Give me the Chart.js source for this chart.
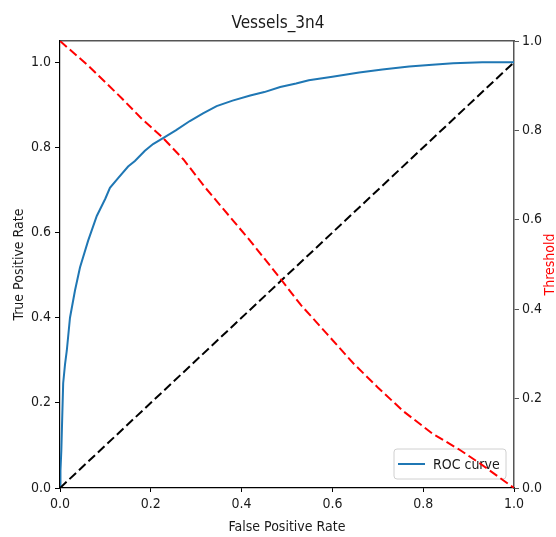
<!DOCTYPE html>
<html>
<head>
<meta charset="utf-8">
<script src="https://cdn.jsdelivr.net/npm/chart.js@4.4.1/dist/chart.umd.min.js"></script>
<style>
  html, body { margin: 0; padding: 0; background: #fff; }
  #chart { display: block; }
</style>
</head>
<body>
<canvas id="chart" width="556" height="537"></canvas>
<script>
// ROC curve (false positive rate vs true positive rate)
var rocFpr = [0, 0.001, 0.003, 0.005, 0.007, 0.011, 0.015, 0.022, 0.033, 0.044, 0.062, 0.081,
  0.100, 0.110, 0.128, 0.150, 0.165, 0.187, 0.205, 0.227, 0.255, 0.286, 0.315, 0.345, 0.380,
  0.419, 0.450, 0.485, 0.520, 0.548, 0.600, 0.659, 0.710, 0.769, 0.820, 0.866, 0.930, 1.0];
var rocTpr = [0, 0.04, 0.09, 0.17, 0.246, 0.29, 0.323, 0.40, 0.464, 0.518, 0.581, 0.639,
  0.680, 0.705, 0.728, 0.755, 0.768, 0.792, 0.808, 0.822, 0.840, 0.862, 0.880, 0.897, 0.910,
  0.922, 0.930, 0.942, 0.950, 0.958, 0.966, 0.976, 0.983, 0.990, 0.994, 0.998, 1.0, 1.0];

// threshold against false positive rate (right axis)
var thrFpr = [0, 0.062, 0.136, 0.180, 0.224, 0.272, 0.320, 0.374, 0.419, 0.485, 0.530, 0.587,
  0.646, 0.700, 0.756, 0.820, 0.881, 0.925, 1.0];
var thrValue = [1.0, 0.945, 0.872, 0.826, 0.786, 0.735, 0.672, 0.607, 0.553, 0.469, 0.410, 0.346,
  0.279, 0.225, 0.172, 0.122, 0.085, 0.055, 0.0];

// chance line
var chanceX = [0, 1];
var chanceY = [0, 1];

var tickValues = [0, 0.2, 0.4, 0.6, 0.8, 1.0];

var FONT = "'DejaVu Sans Condensed', 'DejaVu Sans', sans-serif";
var TEXT = '#1a1a1a';

function toPoints(xs, ys) {
  return xs.map(function (x, i) { return { x: x, y: ys[i] }; });
}

function fixedTicks(scale) {
  scale.ticks = tickValues.map(function (v) { return { value: v }; });
}

// Legend box in the lower right corner of the plot, like matplotlib's.
var legendBox = {
  id: 'legendBox',
  beforeDatasetsDraw: function (chart) {
    var ctx = chart.ctx;
    var area = chart.chartArea;
    var ds = chart.data.datasets[0];
    var w = 112, h = 30;
    var x = area.right - 8 - w;
    var y = area.bottom - 9 - h;
    ctx.save();
    ctx.beginPath();
    ctx.roundRect(x, y, w, h, 3);
    ctx.fillStyle = 'rgba(255,255,255,0.8)';
    ctx.fill();
    ctx.strokeStyle = '#d0d0d0';
    ctx.lineWidth = 1;
    ctx.stroke();
    ctx.beginPath();
    ctx.moveTo(x + 4, y + h / 2);
    ctx.lineTo(x + 31, y + h / 2);
    ctx.strokeStyle = ds.borderColor;
    ctx.lineWidth = ds.borderWidth;
    ctx.stroke();
    ctx.fillStyle = TEXT;
    ctx.font = '14px ' + FONT;
    ctx.textBaseline = 'middle';
    ctx.fillText(ds.label, x + 39, y + h / 2 + 1);
    ctx.restore();
  }
};

// Right axis title reads bottom-to-top as in matplotlib.
var rightTitle = {
  id: 'rightTitle',
  afterDraw: function (chart) {
    var ctx = chart.ctx;
    var area = chart.chartArea;
    ctx.save();
    ctx.translate(550, (area.top + area.bottom) / 2);
    ctx.rotate(-Math.PI / 2);
    ctx.fillStyle = '#ff0000';
    ctx.font = '14px ' + FONT;
    ctx.textAlign = 'center';
    ctx.textBaseline = 'middle';
    ctx.fillText('Threshold', 0, 0);
    ctx.restore();
  }
};

new Chart(document.getElementById('chart'), {
  type: 'line',
  data: {
    datasets: [
      {
        label: 'ROC curve',
        data: toPoints(rocFpr, rocTpr),
        borderColor: '#1f77b4',
        borderWidth: 2,
        pointRadius: 0,
        yAxisID: 'y',
        order: 3,
      },
      {
        label: 'chance',
        data: toPoints(chanceX, chanceY),
        borderColor: '#000000',
        borderWidth: 2,
        borderDash: [9, 4],
        pointRadius: 0,
        yAxisID: 'y',
        order: 2,
      },
      {
        label: 'Threshold',
        data: toPoints(thrFpr, thrValue),
        borderColor: '#ff0000',
        borderWidth: 2,
        borderDash: [9, 4],
        pointRadius: 0,
        yAxisID: 'y2',
        order: 1,
      },
    ],
  },
  options: {
    responsive: false,
    devicePixelRatio: 1,
    animation: false,
    layout: { padding: 0 },
    plugins: {
      legend: { display: false },
      tooltip: { enabled: false },
      title: {
        display: true,
        text: 'Vessels_3n4',
        color: TEXT,
        font: { family: FONT, size: 17, weight: 'normal' },
        padding: { top: 13, bottom: 7.6 },
      },
    },
    scales: {
      x: {
        type: 'linear',
        position: 'bottom',
        min: 0,
        max: 1,
        afterBuildTicks: fixedTicks,
        afterFit: function (s) { s.height = 49; },
        grid: { drawOnChartArea: false, drawTicks: true, tickLength: 4, color: '#000' },
        border: { color: '#000', width: 1.2 },
        ticks: {
          color: TEXT,
          padding: 4,
          font: { family: FONT, size: 14 },
          callback: function (v) { return v.toFixed(1); },
        },
        title: {
          display: true,
          text: 'False Positive Rate',
          color: TEXT,
          font: { family: FONT, size: 14 },
          padding: { top: 0, bottom: 1.5 },
        },
      },
      xTop: {
        type: 'linear',
        position: 'top',
        min: 0,
        max: 1,
        afterFit: function (s) { s.height = 0; },
        grid: { display: false },
        border: { color: '#555', width: 1.5 },
        ticks: { display: false },
      },
      y: {
        type: 'linear',
        position: 'left',
        min: 0,
        max: 1.05,
        afterBuildTicks: fixedTicks,
        afterFit: function (s) { s.width = 60; },
        grid: { drawOnChartArea: false, drawTicks: true, tickLength: 5, color: '#000' },
        border: { color: '#000', width: 1.2 },
        ticks: {
          color: TEXT,
          padding: 4,
          font: { family: FONT, size: 14 },
          callback: function (v) { return v.toFixed(1); },
        },
        title: {
          display: true,
          text: 'True Positive Rate',
          color: TEXT,
          font: { family: FONT, size: 14 },
          padding: { top: 10.5, bottom: 0 },
        },
      },
      y2: {
        type: 'linear',
        position: 'right',
        min: 0,
        max: 1,
        afterBuildTicks: fixedTicks,
        afterFit: function (s) { s.width = 42; },
        grid: { drawOnChartArea: false, drawTicks: true, tickLength: 5, color: '#555' },
        border: { color: '#555', width: 1.5 },
        ticks: {
          color: TEXT,
          padding: 3,
          font: { family: FONT, size: 14 },
          callback: function (v) { return v.toFixed(1); },
        },
      },
    },
  },
  plugins: [legendBox, rightTitle],
});
</script>
</body>
</html>
